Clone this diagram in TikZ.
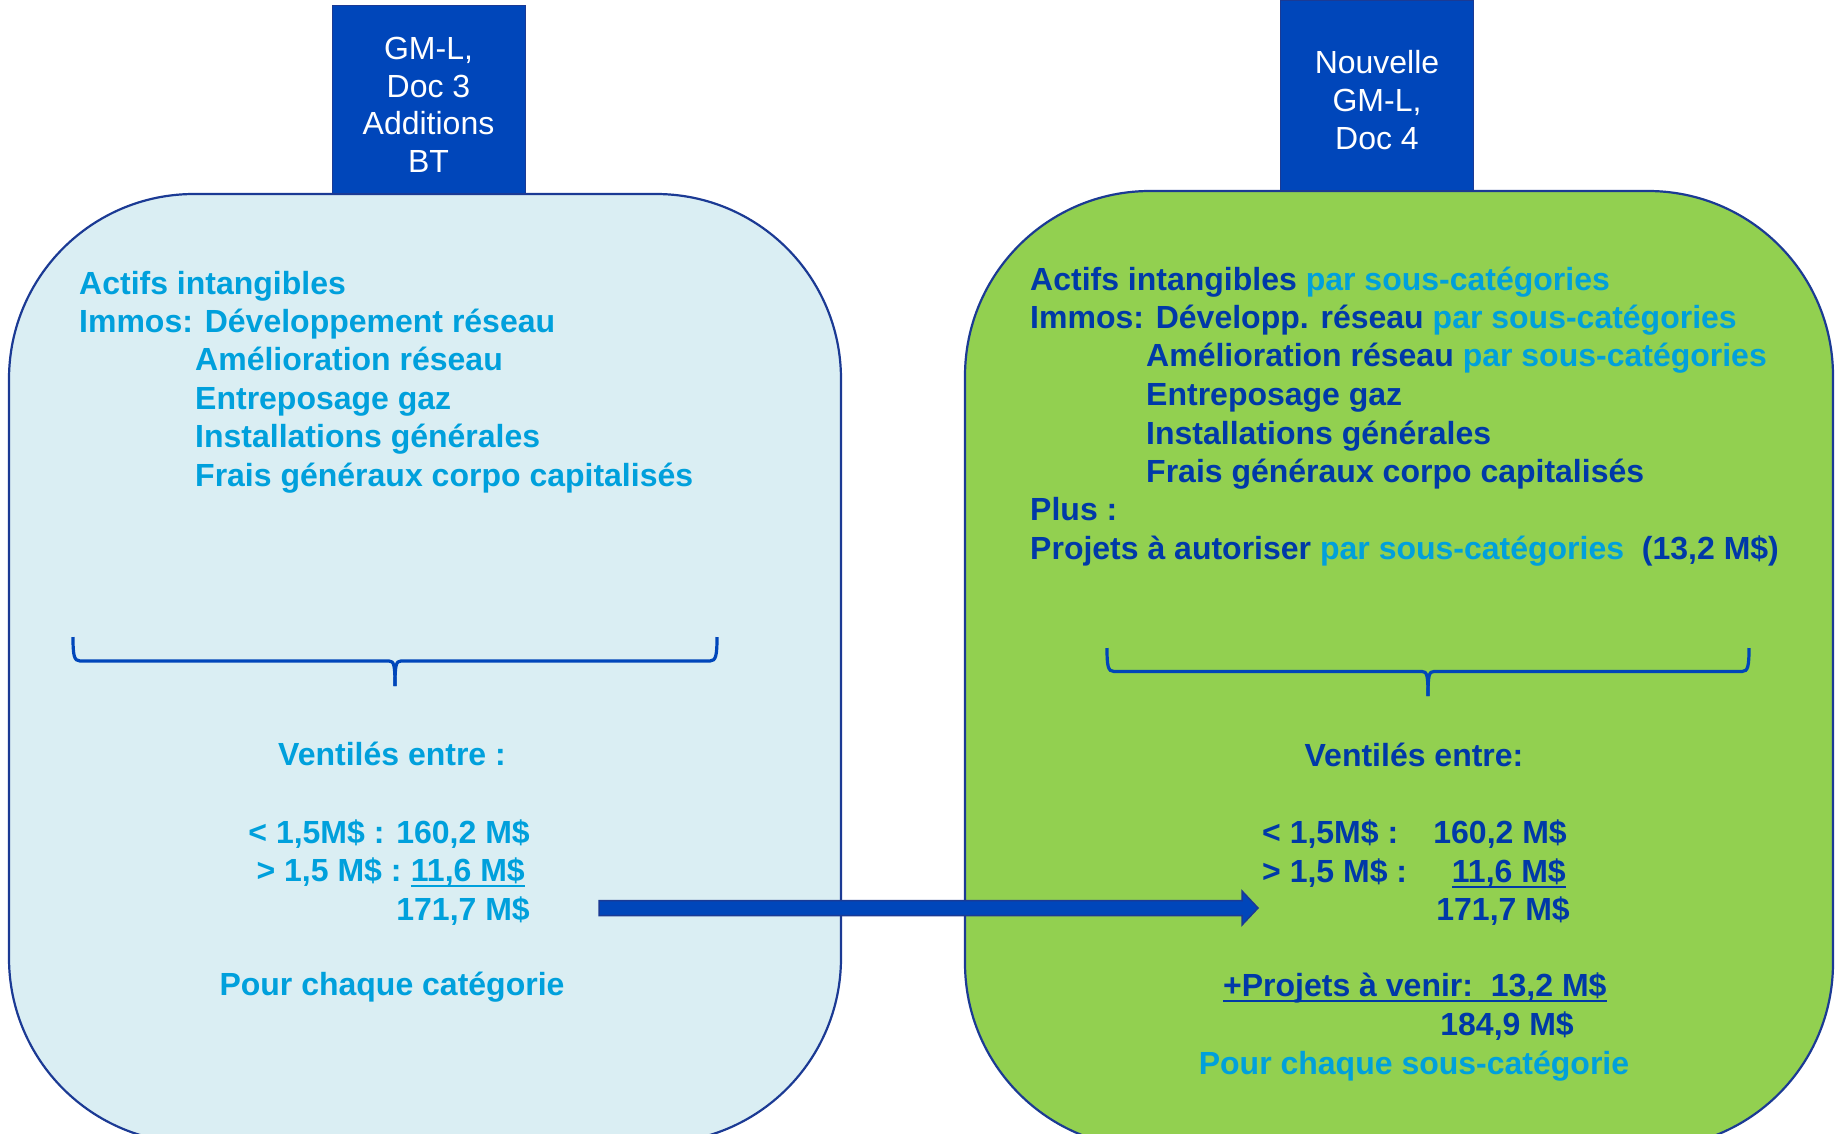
\documentclass[tikz,border=0pt]{standalone}
\usepackage{fontspec}
\setmainfont{Liberation Sans}
\usetikzlibrary{calc}
\definecolor{hdr}{HTML}{0046BA}
\definecolor{bord}{HTML}{1B3A94}
\definecolor{lblue}{HTML}{DAEEF3}
\definecolor{lgreen}{HTML}{92D050}
\definecolor{cyantxt}{HTML}{00A0DC}
\definecolor{dtxt}{HTML}{0039A8}
\begin{document}
\begin{tikzpicture}[x=1pt,y=-1pt,
  bigbox/.style={draw=bord, line width=2.2pt, rounded corners=185pt},
  hdrbox/.style={draw=bord, line width=1pt, fill=hdr, minimum width=193pt, minimum height=188pt, inner sep=0pt},
  hdrtext/.style={text=white, inner sep=0pt, align=center, font=\fontsize{32}{37.6}\selectfont},
  lt/.style={font=\fontsize{32}{38}\selectfont\bfseries, text=cyantxt, inner sep=0pt},
  rt/.style={font=\fontsize{32}{38}\selectfont\bfseries, text=dtxt, inner sep=0pt},
  bracest/.style={draw=hdr, line width=3.2pt},
  uline/.style={line width=2.6pt},
  arrowst/.style={fill=hdr, draw=bord, line width=1.5pt}
]
\useasboundingbox (0,0) rectangle (1839,1134);
\clip (0,0) rectangle (1839,1134);

% main boxes
\draw[bigbox, fill=lblue] (9,194) rectangle (841,1143);
\draw[bigbox, fill=lgreen] (965,191) rectangle (1833,1148);

% headers
\node[hdrbox] (hL) at (428.5,100) {};
\node[hdrtext] (hLt) at ($(hL.center)+(0,5)$) {GM-L,\\Doc 3\\Additions\\BT};
\node[hdrbox, minimum height=190pt] (hR) at (1377,96) {};
\node[hdrtext] (hRt) at ($(hR.center)+(0,4)$) {Nouvelle\\GM-L,\\Doc 4};

% left text
\node[lt, anchor=base west] (l1) at (79,294) {Actifs intangibles};
\node[lt, anchor=base west] (l2) at (79,332) {Immos: Développement réseau};
\node[lt, anchor=base west] (l3) at (195,370.5) {Amélioration réseau};
\node[lt, anchor=base west] (l4) at (195,409) {Entreposage gaz};
\node[lt, anchor=base west] (l5) at (195,447) {Installations générales};
\node[lt, anchor=base west] (l6) at (195,486) {Frais généraux corpo capitalisés};

% left brace
\draw[bracest] (73,637) .. controls (73,655) and (74,661) .. (80,661) -- (389,661)
  .. controls (394,661) and (395,665) .. (395,686);
\draw[bracest] (395,686) .. controls (395,665) and (396,661) .. (401,661) -- (710,661)
  .. controls (716,661) and (717,655) .. (717,637);

\node[lt, anchor=base] (lv) at (392,765) {Ventilés entre :};
\node[lt, anchor=base east] (la) at (530,843) {< 1,5M\$ : 160,2 M\$};
\node[lt, anchor=base east] (lbv) at (525,881) {11,6 M\$};
\node[lt, anchor=base east] (lb) at ($(lbv.base west)+(-9,0)$) {> 1,5 M\$ :};
\draw[uline, cyantxt] ($(lbv.base west)+(0,5)$) -- ($(lbv.base east)+(0,5)$);
\node[lt, anchor=base east] (lc) at (530,920) {171,7 M\$};
\node[lt, anchor=base] (lp) at (392,995) {Pour chaque catégorie};

% right text
\node[rt, anchor=base west] (r1) at (1030,290) {Actifs intangibles \textcolor{cyantxt}{par sous-catégories}};
\node[rt, anchor=base west] (r2) at (1030,328) {Immos: Développ. réseau \textcolor{cyantxt}{par sous-catégories}};
\node[rt, anchor=base west] (r3) at (1146,366) {Amélioration réseau \textcolor{cyantxt}{par sous-catégories}};
\node[rt, anchor=base west] (r4) at (1146,405) {Entreposage gaz};
\node[rt, anchor=base west] (r5) at (1146,444) {Installations générales};
\node[rt, anchor=base west] (r6) at (1146,482) {Frais généraux corpo capitalisés};
\node[rt, anchor=base west] (r7) at (1030,520) {Plus :};
\node[rt, anchor=base west] (r8) at (1030,559) {Projets à autoriser \textcolor{cyantxt}{par sous-catégories}\ \ (13,2 M\$)};

% right brace
\draw[bracest] (1107,648) .. controls (1107,666) and (1108,671.5) .. (1114,671.5) -- (1422,671.5)
  .. controls (1427,671.5) and (1428,675) .. (1428,696);
\draw[bracest] (1428,696) .. controls (1428,675) and (1429,671.5) .. (1434,671.5) -- (1742,671.5)
  .. controls (1748,671.5) and (1749,666) .. (1749,648);

\node[rt, anchor=base] (rv) at (1414,766) {Ventilés entre:};
\node[rt, anchor=base west] (ra1) at (1262,843) {< 1,5M\$ :};
\node[rt, anchor=base east] (ra2) at (1567,843) {160,2 M\$};
\node[rt, anchor=base west] (rb1) at (1262,882) {> 1,5 M\$ :};
\node[rt, anchor=base east] (rb2) at (1566,882) {11,6 M\$};
\draw[uline, dtxt] ($(rb2.base west)+(0,5)$) -- ($(rb2.base east)+(0,5)$);
\node[rt, anchor=base east] (rc) at (1570,920) {171,7 M\$};
\node[rt, anchor=base west] (rd) at (1223,996) {+Projets à venir:\ \ 13,2 M\$};
\draw[uline, dtxt] ($(rd.base west)+(0,5)$) -- ($(rd.base east)+(0,5)$);
\node[rt, anchor=base east] (re) at (1574,1035) {184,9 M\$};
\node[lt, anchor=base] (rp) at (1414,1074) {Pour chaque sous-catégorie};

% block arrow
\coordinate (arrS) at (599,908);
\coordinate (arrE) at (1258,908);
\draw[arrowst] ($(arrS)+(0,-7.5)$) -- ($(arrE)+(-16,-7.5)$) -- ($(arrE)+(-16,-17)$) -- (arrE)
  -- ($(arrE)+(-16,17)$) -- ($(arrE)+(-16,7.5)$) -- ($(arrS)+(0,7.5)$) -- cycle;
\end{tikzpicture}
\end{document}
